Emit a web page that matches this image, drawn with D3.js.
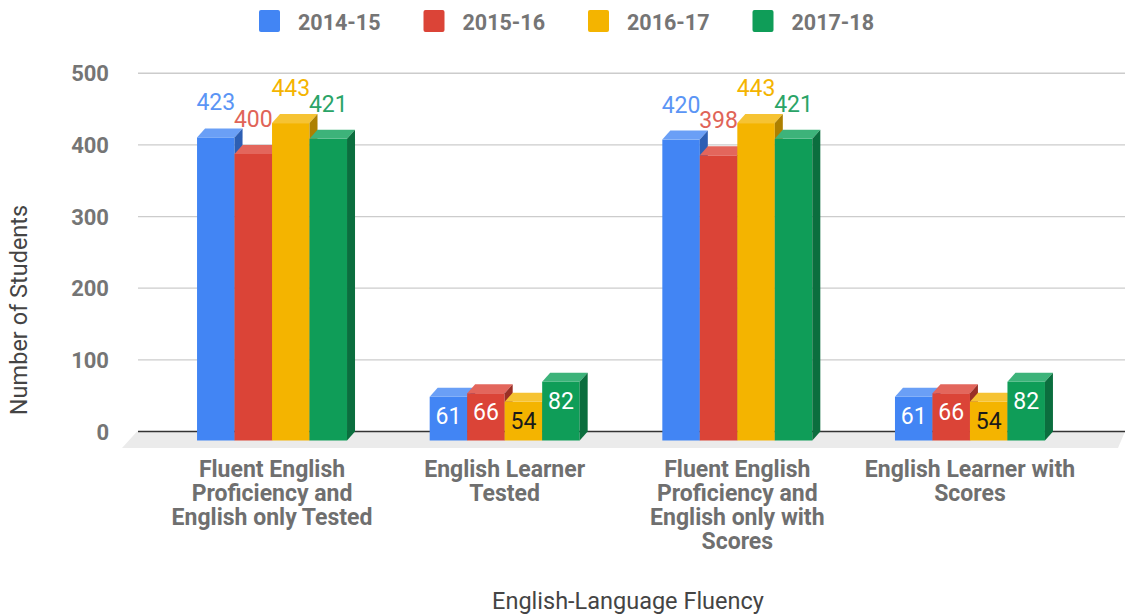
<!DOCTYPE html>
<html><head><meta charset="utf-8">
<script src="https://cdn.jsdelivr.net/npm/d3@7"></script>
<style>body{margin:0;background:#fff}svg{display:block}</style>
</head><body>
<svg id="chart" width="1125" height="616"></svg>
<script>
const categories = [
  ["Fluent English","Proficiency and","English only Tested"],
  ["English Learner","Tested"],
  ["Fluent English","Proficiency and","English only with","Scores"],
  ["English Learner with","Scores"]
];
const seriesNames = ["2014-15","2015-16","2016-17","2017-18"];
const values2014 = [423, 61, 420, 61];
const values2015 = [400, 66, 398, 66];
const values2016 = [443, 54, 443, 54];
const values2017 = [421, 82, 421, 82];
const seriesValues = [values2014, values2015, values2016, values2017];
const yTicks = [0,100,200,300,400,500];
const colors = ["#4285f4","#db4437","#f4b400","#0f9d58"];
const topColors = ["#6a9ff6","#e3665c","#f6c333","#3db37a"];
const sideColors = ["#2d5fb4","#9a2f26","#ad8000","#0b6e3e"];
const labelColors = ["#5b95f5","#e06458","#f4b400","#2aa467"];

const svg = d3.select("#chart");
const font = "Roboto, 'Noto Sans', sans-serif";
const dx = 8, dy = 9;

const idx = d3.range(categories.length);
const x0 = d3.scaleBand().domain(idx).range([155.7, 1086.3]).paddingInner(0.3553).paddingOuter(0.1777);
const x1 = d3.scaleBand().domain(d3.range(seriesNames.length)).range([0, x0.bandwidth()]);
const y = d3.scaleLinear().domain([0,500]).range([431.5, 73.25]);

// floor
svg.append("path")
  .attr("d", `M${137},${y(0)} L1125,${y(0)} L1118,448 L122,448 Z`)
  .attr("fill","#ebebeb");

// y axis labels
const yAxis = d3.axisLeft(y).tickValues(yTicks).tickSize(0).tickPadding(0);
const gAxis = svg.append("g").attr("transform","translate(109,0)").call(yAxis);
gAxis.select(".domain").remove();
gAxis.selectAll("text").attr("font-family",font).attr("font-weight","bold")
  .attr("font-size",22).attr("fill","#757575").attr("x",0).attr("dy","0.35em");

svg.append("g").selectAll("line").data(yTicks.filter(d=>d>0)).join("line")
  .attr("x1",138).attr("x2",1125).attr("y1",d=>y(d)).attr("y2",d=>y(d))
  .attr("stroke","#cccccc").attr("stroke-width",1.3);
svg.append("line").attr("x1",138).attr("x2",1125).attr("y1",y(0)).attr("y2",y(0))
  .attr("stroke","#333").attr("stroke-width",1.6);

// bars
const bars = svg.append("g");
idx.forEach(ci => {
  seriesNames.forEach((s, si) => {
    const v = seriesValues[si][ci];
    const xl = x0(ci) + x1(si), w = x1.bandwidth();
    const yt = y(v) + dy, yb = y(0) + dy;
    const g = bars.append("g");
    g.append("rect").attr("x",xl).attr("y",yt).attr("width",w).attr("height",yb-yt).attr("fill",colors[si]);
    g.append("path").attr("d",`M${xl},${yt} L${xl+dx},${yt-dy} L${xl+w+dx},${yt-dy} L${xl+w},${yt} Z`).attr("fill",topColors[si]);
    g.append("path").attr("d",`M${xl+w},${yt} L${xl+w+dx},${yt-dy} L${xl+w+dx},${yb-dy} L${xl+w},${yb} Z`).attr("fill",sideColors[si]);
  });
});

// value labels
const labels = svg.append("g").attr("font-family",font).attr("font-size",23).attr("text-anchor","middle");
idx.forEach(ci => {
  seriesNames.forEach((s, si) => {
    const v = seriesValues[si][ci];
    const cx = x0(ci) + x1(si) + x1.bandwidth()/2;
    if (v > 200) {
      labels.append("text").attr("x",cx).attr("y",y(v)-18).attr("fill",labelColors[si]).text(v);
    } else {
      labels.append("text").attr("x",cx).attr("y",y(v)+dy+27).attr("fill",si===2?"#1a1a1a":"#ffffff").text(v);
    }
  });
});

// category labels
const cat = svg.append("g").attr("font-family",font).attr("font-weight","bold").attr("font-size",23)
  .attr("fill","#6f6f6f").attr("text-anchor","middle");
idx.forEach(ci => {
  const cx = x0(ci)+x0.bandwidth()/2;
  const t = cat.append("text").attr("x",cx).attr("y",477);
  categories[ci].forEach((line,li) => t.append("tspan").attr("x",cx).attr("dy",li?24:0).text(line));
});

// axis titles
svg.append("text").attr("x",628).attr("y",609).attr("text-anchor","middle")
  .attr("font-family",font).attr("font-size",23.5).attr("fill","#444").text("English-Language Fluency");
svg.append("text").attr("transform","translate(27,310) rotate(-90)").attr("text-anchor","middle")
  .attr("font-family",font).attr("font-size",23.5).attr("fill","#444").text("Number of Students");

// legend
const leg = svg.append("g");
seriesNames.forEach((s, si) => {
  const lx = 259 + si*164.5;
  leg.append("rect").attr("x",lx).attr("y",10).attr("width",21).attr("height",22).attr("rx",2).attr("fill",colors[si]);
  leg.append("text").attr("x",lx+39).attr("y",29.5).attr("font-family",font).attr("font-weight","bold")
    .attr("font-size",21.5).attr("fill","#757575").text(s);
});
</script>
</body></html>
